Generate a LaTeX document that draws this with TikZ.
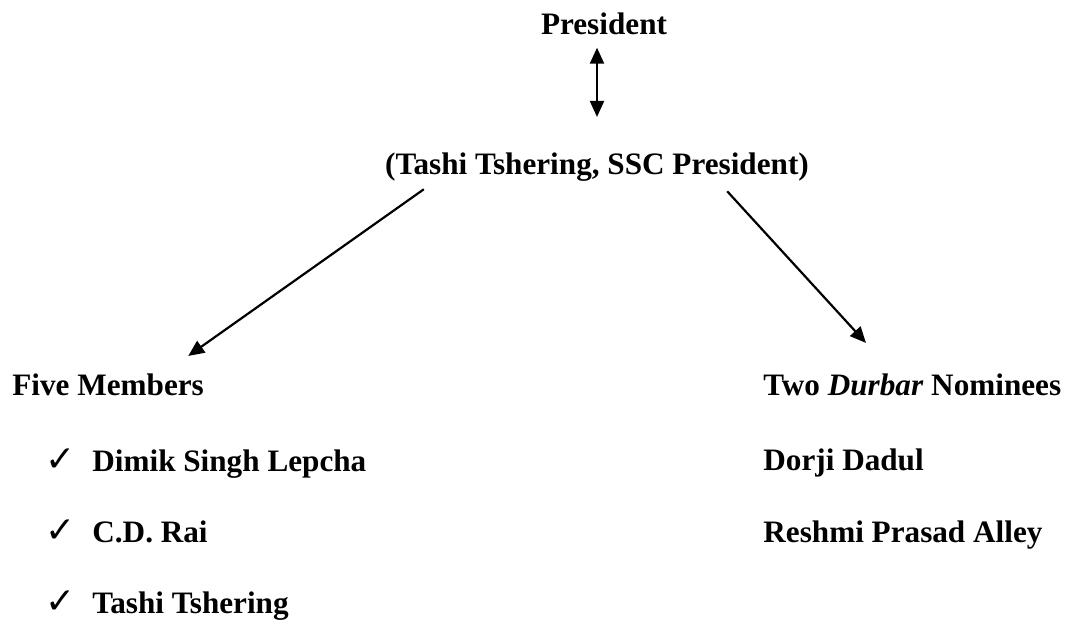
\documentclass[tikz,border=0pt]{standalone}
\usepackage{fontspec}
\setmainfont{Liberation Serif}
\newfontfamily\symfont{DejaVu Sans}
\usepackage{tikz}
\usetikzlibrary{arrows.meta,positioning}
\newcommand{\chkmark}{\makebox[22.5pt][l]{\hspace{-1pt}\symfont\fontsize{18}{18}\selectfont ✓}}

\begin{document}
\begin{tikzpicture}[x=0.5pt,y=-0.5pt, >={Triangle[length=8pt,width=7pt]}, every node/.style={inner sep=0pt,font=\bfseries\fontsize{15.6}{18}\selectfont}, title/.style={anchor=base}, entry/.style={anchor=base west}, link/.style={->,line width=1.1pt}]
        \useasboundingbox (0,0) rectangle (1076,624);
        \node[title]    (pres)  at (604,35)     {President};
        \node[title]    (ssc)   at (597,175)    {(Tashi Tshering, SSC President)};
        \node[entry]    (five)  at (12,396)     {Five Members};
        \node[entry]    (two)   at (763,396)    {Two \textit{Durbar} Nominees};
        \node[entry]    (m_1)   at (47,472)     {\chkmark Dimik Singh Lepcha};
        \node[entry]    (m_2)   at (47,543)     {\chkmark C.D. Rai};
        \node[entry]    (m_3)   at (47,613)     {\chkmark Tashi Tshering};
        \node[entry]    (n_1)   at (763,471)    {Dorji Dadul};
        \node[entry]    (n_2)   at (763,543)    {Reshmi Prasad Alley};
    \draw[link,<->,shorten <=6pt,shorten >=18pt] (ssc.north |- pres.south) -- (ssc.north);
    \draw[link] ([shift={(39,7)}]ssc.south west) -- ([shift={(-16,-18)}]five.north east);
    \draw[link] ([shift={(-82,9)}]ssc.south east) -- ([shift={(103,-31)}]two.north west);
\end{tikzpicture}
\end{document}
